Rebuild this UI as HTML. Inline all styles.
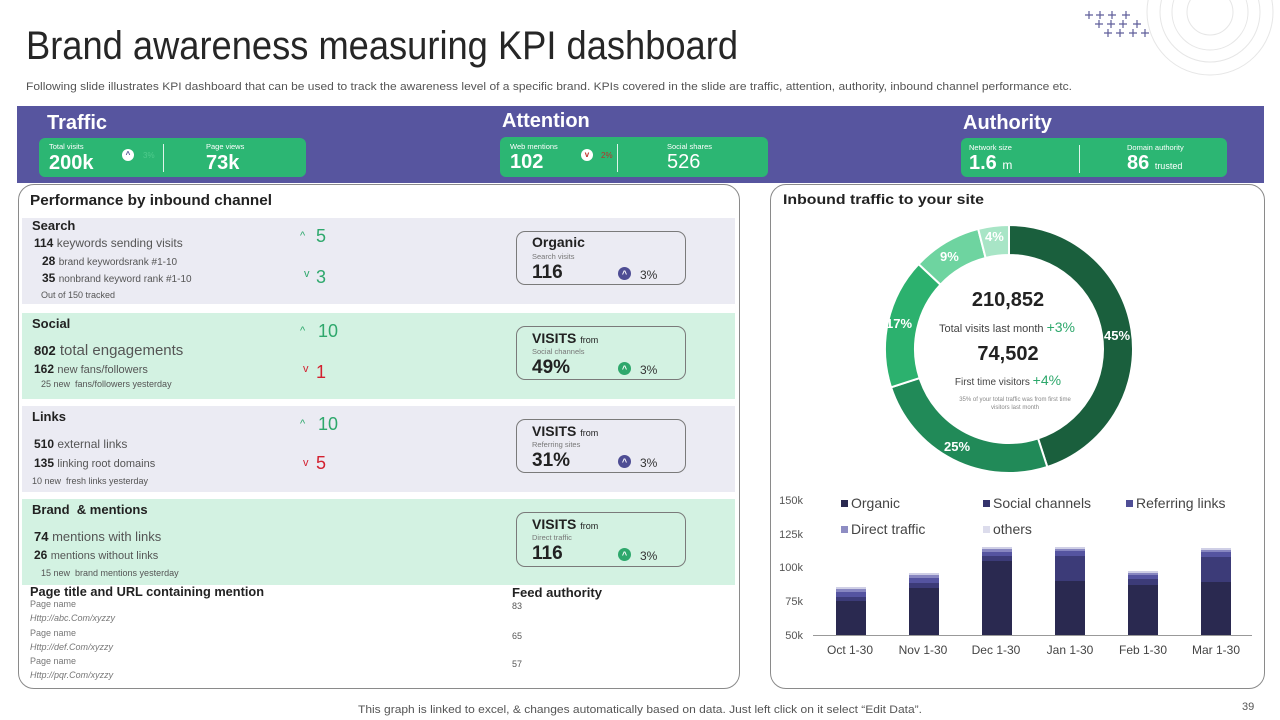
<!DOCTYPE html>
<html><head><meta charset="utf-8">
<style>
*{margin:0;padding:0;box-sizing:border-box}
body{width:1280px;height:720px;background:#fff;position:relative;overflow:hidden;font-family:"Liberation Sans",Arial,sans-serif;color:#222}
.t{position:absolute;white-space:nowrap;line-height:1}
.fit span.s{display:inline-block;transform-origin:0 0;white-space:nowrap}
.w{color:#fff}
.g{color:#555}
.gb{position:absolute;background:#2cb673;border-radius:6px}
.sep{position:absolute;width:1px;background:rgba(255,255,255,0.85)}
.sec{position:absolute;left:22px;width:713px;height:86px}
.lav{background:#ebebf3}
.mint{background:#d3f2e2}
.gr{color:#2ea86c}
.rd{color:#d3202f}
.vb{position:absolute;left:516px;width:170px;height:54px;border:1px solid #7a7a7a;border-radius:9px}
.ic{position:absolute;width:13px;height:13px;border-radius:50%;color:#fff;font-size:9px;font-weight:bold;text-align:center;line-height:14px}
.kic{position:absolute;width:12px;height:12px;border-radius:50%;background:#fff;font-size:8px;font-weight:bold;text-align:center;line-height:12px}
.panel{position:absolute;border:1px solid #8a8a8a;border-radius:16px;background:#fff}
</style></head>
<body>

<!-- decorations -->
<svg style="position:absolute;left:0;top:0" width="1280" height="720">
<g fill="none" stroke="#e6e6e6" stroke-width="1">
<circle cx="1210" cy="12" r="23"/>
<circle cx="1210" cy="12" r="38"/>
<circle cx="1210" cy="12" r="50"/>
<circle cx="1210" cy="12" r="63"/>
</g>
<g stroke="#5f5e9a" stroke-width="1.2">
<path d="M1085,15h8M1089,11v8 M1096,15h8M1100,11v8 M1108,15h8M1112,11v8 M1122,15h8M1126,11v8"/>
<path d="M1095,24h8M1099,20v8 M1107,24h8M1111,20v8 M1119,24h8M1123,20v8 M1133,24h8M1137,20v8"/>
<path d="M1104,33h8M1108,29v8 M1116,33h8M1120,29v8 M1129,33h8M1133,29v8 M1141,33h8M1145,29v8"/>
</g>
</svg>

<div class="t fit" style="left:26px;top:26px;width:712px;font-size:40px;color:#262626"><span class="s">Brand awareness measuring KPI dashboard</span></div>
<div class="t fit" style="left:26px;top:82px;width:1046px;font-size:11px;color:#555"><span class="s">Following slide illustrates KPI dashboard that can be used to track the awareness level of a specific brand. KPIs covered in the slide are traffic, attention, authority, inbound channel performance etc.</span></div>

<!-- KPI band -->
<div style="position:absolute;left:17px;top:106px;width:1247px;height:77px;background:#57559f"></div>
<div class="t w" style="left:47px;top:113px;font-size:20px;font-weight:bold">Traffic</div>
<div class="t w" style="left:502px;top:111px;font-size:20px;font-weight:bold">Attention</div>
<div class="t w" style="left:963px;top:113px;font-size:20px;font-weight:bold">Authority</div>

<div class="gb" style="left:39px;top:138px;width:267px;height:39px"></div>
<div class="gb" style="left:500px;top:137px;width:268px;height:40px"></div>
<div class="gb" style="left:961px;top:138px;width:266px;height:39px"></div>

<div class="t w" style="left:49px;top:143px;font-size:7.5px">Total visits</div>
<div class="t w" style="left:49px;top:153px;font-size:20px;font-weight:bold">200k</div>
<div class="kic" style="left:122px;top:149px;color:#4e4d94">^</div>
<div class="t" style="left:143px;top:152px;font-size:8px;color:#4fca8c">3%</div>
<div class="sep" style="left:163px;top:144px;height:28px"></div>
<div class="t w" style="left:206px;top:143px;font-size:7.5px">Page views</div>
<div class="t w" style="left:206px;top:153px;font-size:20px;font-weight:bold">73k</div>

<div class="t w" style="left:510px;top:143px;font-size:7.5px">Web mentions</div>
<div class="t w" style="left:510px;top:152px;font-size:20px;font-weight:bold">102</div>
<div class="kic" style="left:581px;top:149px;color:#c0302a">v</div>
<div class="t" style="left:601px;top:152px;font-size:8px;color:#b8322a">2%</div>
<div class="sep" style="left:617px;top:144px;height:28px"></div>
<div class="t w" style="left:667px;top:143px;font-size:7.5px">Social shares</div>
<div class="t w" style="left:667px;top:152px;font-size:20px">526</div>

<div class="t w" style="left:969px;top:144px;font-size:7.5px">Network size</div>
<div class="t w" style="left:969px;top:153px;font-size:20px;font-weight:bold">1.6 <span style="font-size:12px;font-weight:normal">m</span></div>
<div class="sep" style="left:1079px;top:145px;height:28px"></div>
<div class="t w" style="left:1127px;top:144px;font-size:7.5px">Domain authority</div>
<div class="t w" style="left:1127px;top:153px;font-size:20px;font-weight:bold">86 <span style="font-size:9px;font-weight:normal">trusted</span></div>

<!-- Left panel -->
<div class="panel" style="left:18px;top:184px;width:722px;height:505px"></div>
<div class="t fit" style="left:30px;top:193px;width:242px;font-size:15px;font-weight:bold"><span class="s">Performance by inbound channel</span></div>

<div class="sec lav" style="top:218px"></div>
<div class="sec mint" style="top:313px"></div>
<div class="sec lav" style="top:406px"></div>
<div class="sec mint" style="top:499px"></div>

<!-- Search -->
<div class="t" style="left:32px;top:219px;font-size:13px;font-weight:bold">Search</div>
<div class="t" style="left:34px;top:237px;font-size:12px"><b>114</b> <span class="g">keywords sending visits</span></div>
<div class="t" style="left:42px;top:255px;font-size:12px"><b>28</b> <span class="g" style="font-size:10px">brand keywordsrank #1-10</span></div>
<div class="t" style="left:42px;top:272px;font-size:12px"><b>35</b> <span class="g" style="font-size:10px">nonbrand keyword rank #1-10</span></div>
<div class="t g" style="left:41px;top:291px;font-size:9px">Out of 150 tracked</div>
<div class="t gr" style="left:300px;top:231px;font-size:11px">^</div>
<div class="t gr" style="left:316px;top:227px;font-size:18px">5</div>
<div class="t gr" style="left:304px;top:269px;font-size:11px">v</div>
<div class="t gr" style="left:316px;top:268px;font-size:18px">3</div>

<!-- Social -->
<div class="t" style="left:32px;top:317px;font-size:13px;font-weight:bold">Social</div>
<div class="t" style="left:34px;top:343px;font-size:15px"><b style="font-size:13px">802</b> <span class="g">total engagements</span></div>
<div class="t" style="left:34px;top:363px;font-size:12px"><b>162</b> <span class="g" style="font-size:11px">new fans/followers</span></div>
<div class="t g" style="left:41px;top:380px;font-size:9px">25 new&nbsp; fans/followers yesterday</div>
<div class="t gr" style="left:300px;top:326px;font-size:11px">^</div>
<div class="t gr" style="left:318px;top:322px;font-size:18px">10</div>
<div class="t rd" style="left:303px;top:364px;font-size:11px">v</div>
<div class="t rd" style="left:316px;top:363px;font-size:18px">1</div>

<!-- Links -->
<div class="t" style="left:32px;top:410px;font-size:13px;font-weight:bold">Links</div>
<div class="t" style="left:34px;top:438px;font-size:12px"><b>510</b> <span class="g">external links</span></div>
<div class="t" style="left:34px;top:457px;font-size:12px"><b>135</b> <span class="g" style="font-size:11px">linking root domains</span></div>
<div class="t g" style="left:32px;top:477px;font-size:9px">10 new&nbsp; fresh links yesterday</div>
<div class="t gr" style="left:300px;top:419px;font-size:11px">^</div>
<div class="t gr" style="left:318px;top:415px;font-size:18px">10</div>
<div class="t rd" style="left:303px;top:458px;font-size:11px">v</div>
<div class="t rd" style="left:316px;top:454px;font-size:18px">5</div>

<!-- Brand -->
<div class="t" style="left:32px;top:503px;font-size:13px;font-weight:bold">Brand&nbsp; &amp; mentions</div>
<div class="t" style="left:34px;top:530px;font-size:13px"><b>74</b> <span class="g">mentions with links</span></div>
<div class="t" style="left:34px;top:549px;font-size:12px"><b>26</b> <span class="g" style="font-size:11px">mentions without links</span></div>
<div class="t g" style="left:41px;top:569px;font-size:9px">15 new&nbsp; brand mentions yesterday</div>

<!-- Page title list -->
<div class="t fit" style="left:30px;top:585px;width:234px;font-size:13px;font-weight:bold"><span class="s">Page title and URL containing mention</span></div>
<div class="t" style="left:30px;top:600px;font-size:9px;color:#777">Page name</div>
<div class="t" style="left:30px;top:614px;font-size:9px;color:#777;font-style:italic">Http://abc.Com/xyzzy</div>
<div class="t" style="left:30px;top:629px;font-size:9px;color:#777">Page name</div>
<div class="t" style="left:30px;top:643px;font-size:9px;color:#777;font-style:italic">Http://def.Com/xyzzy</div>
<div class="t" style="left:30px;top:657px;font-size:9px;color:#777">Page name</div>
<div class="t" style="left:30px;top:671px;font-size:9px;color:#777;font-style:italic">Http://pqr.Com/xyzzy</div>

<div class="t fit" style="left:512px;top:586px;width:90px;font-size:13px;font-weight:bold"><span class="s">Feed authority</span></div>
<div class="t g" style="left:512px;top:602px;font-size:9px">83</div>
<div class="t g" style="left:512px;top:632px;font-size:9px">65</div>
<div class="t g" style="left:512px;top:660px;font-size:9px">57</div>

<!-- VISITS boxes -->
<div class="vb" style="top:231px"></div>
<div class="t" style="left:532px;top:235px;font-size:14px;font-weight:bold">Organic</div>
<div class="t" style="left:532px;top:253px;font-size:7.5px;color:#777">Search visits</div>
<div class="t" style="left:532px;top:263px;font-size:19px;font-weight:bold">116</div>
<div class="ic" style="left:618px;top:267px;background:#4e4d94">^</div>
<div class="t" style="left:640px;top:269px;font-size:12px;color:#333">3%</div>

<div class="vb" style="top:326px"></div>
<div class="t" style="left:532px;top:331px;font-size:14px;font-weight:bold">VISITS <span style="font-size:9px;font-weight:normal">from</span></div>
<div class="t" style="left:532px;top:348px;font-size:7.5px;color:#777">Social channels</div>
<div class="t" style="left:532px;top:358px;font-size:19px;font-weight:bold">49%</div>
<div class="ic" style="left:618px;top:362px;background:#2ea86c">^</div>
<div class="t" style="left:640px;top:364px;font-size:12px;color:#333">3%</div>

<div class="vb" style="top:419px"></div>
<div class="t" style="left:532px;top:424px;font-size:14px;font-weight:bold">VISITS <span style="font-size:9px;font-weight:normal">from</span></div>
<div class="t" style="left:532px;top:441px;font-size:7.5px;color:#777">Referring sites</div>
<div class="t" style="left:532px;top:451px;font-size:19px;font-weight:bold">31%</div>
<div class="ic" style="left:618px;top:455px;background:#4e4d94">^</div>
<div class="t" style="left:640px;top:457px;font-size:12px;color:#333">3%</div>

<div class="vb" style="top:512px;height:55px"></div>
<div class="t" style="left:532px;top:517px;font-size:14px;font-weight:bold">VISITS <span style="font-size:9px;font-weight:normal">from</span></div>
<div class="t" style="left:532px;top:534px;font-size:7.5px;color:#777">Direct traffic</div>
<div class="t" style="left:532px;top:544px;font-size:19px;font-weight:bold">116</div>
<div class="ic" style="left:618px;top:548px;background:#2ea86c">^</div>
<div class="t" style="left:640px;top:550px;font-size:12px;color:#333">3%</div>

<!-- Right panel -->
<div class="panel" style="left:770px;top:184px;width:495px;height:505px"></div>
<div class="t fit" style="left:783px;top:192px;width:201px;font-size:14px;font-weight:bold"><span class="s">Inbound traffic to your site</span></div>

<svg style="position:absolute;left:0;top:0" width="1280" height="720" font-family="Liberation Sans, Arial, sans-serif">
<g stroke="#fff" stroke-width="2">
<path fill="#1a5f3d" d="M1009,225 A124,124 0 0 1 1047.32,466.93 L1038.05,438.40 A94,94 0 0 0 1009,255 Z"/>
<path fill="#218a58" d="M1047.32,466.93 A124,124 0 0 1 891.07,387.32 L919.60,378.05 A94,94 0 0 0 1038.05,438.40 Z"/>
<path fill="#2cb16e" d="M891.07,387.32 A124,124 0 0 1 918.61,264.12 L940.48,284.65 A94,94 0 0 0 919.60,378.05 Z"/>
<path fill="#6ed4a0" d="M918.61,264.12 A124,124 0 0 1 978.16,228.90 L985.62,257.95 A94,94 0 0 0 940.48,284.65 Z"/>
<path fill="#a8e5c6" d="M978.16,228.90 A124,124 0 0 1 1009,225 L1009,255 A94,94 0 0 0 985.62,257.95 Z"/>
</g>
<g fill="#fff" font-size="13" font-weight="bold">
<text x="1104" y="340">45%</text>
<text x="944" y="451">25%</text>
<text x="886" y="328">17%</text>
<text x="940" y="261">9%</text>
<text x="985" y="241">4%</text>
</g>
<text x="1008" y="306" text-anchor="middle" font-size="20" font-weight="bold" fill="#222">210,852</text>
<text x="1007" y="332" text-anchor="middle" font-size="11" fill="#444">Total visits last month <tspan font-size="14" fill="#2ea86c">+3%</tspan></text>
<text x="1008" y="360" text-anchor="middle" font-size="20" font-weight="bold" fill="#222">74,502</text>
<text x="1008" y="385" text-anchor="middle" font-size="10" fill="#444">First time visitors <tspan font-size="14" fill="#2ea86c">+4%</tspan></text>
<text x="1015" y="401" text-anchor="middle" font-size="6" fill="#888">35% of your total traffic was from first time</text>
<text x="1015" y="409" text-anchor="middle" font-size="6" fill="#888">visitors last month</text>

<!-- bar chart -->
<g font-size="11" fill="#555" text-anchor="end">
<text x="803" y="504">150k</text>
<text x="803" y="538">125k</text>
<text x="803" y="571">100k</text>
<text x="803" y="605">75k</text>
<text x="803" y="639">50k</text>
</g>
<g>
<rect x="836" y="587" width="30" height="2" fill="#cfcfe6"/>
<rect x="836" y="589" width="30" height="3" fill="#8786c0"/>
<rect x="836" y="592" width="30" height="5" fill="#5554a0"/>
<rect x="836" y="597" width="30" height="4" fill="#3c3b78"/>
<rect x="836" y="601" width="30" height="34" fill="#2a2950"/>

<rect x="909" y="573" width="30" height="2" fill="#cfcfe6"/>
<rect x="909" y="575" width="30" height="3" fill="#8786c0"/>
<rect x="909" y="578" width="30" height="5" fill="#5554a0"/>
<rect x="909" y="583" width="30" height="5" fill="#3c3b78"/>
<rect x="909" y="588" width="30" height="47" fill="#2a2950"/>

<rect x="982" y="547" width="30" height="2" fill="#cfcfe6"/>
<rect x="982" y="549" width="30" height="3" fill="#8786c0"/>
<rect x="982" y="552" width="30" height="4" fill="#5554a0"/>
<rect x="982" y="556" width="30" height="5" fill="#3c3b78"/>
<rect x="982" y="561" width="30" height="74" fill="#2a2950"/>

<rect x="1055" y="547" width="30" height="2" fill="#cfcfe6"/>
<rect x="1055" y="549" width="30" height="2" fill="#8786c0"/>
<rect x="1055" y="551" width="30" height="5" fill="#5554a0"/>
<rect x="1055" y="556" width="30" height="25" fill="#3c3b78"/>
<rect x="1055" y="581" width="30" height="54" fill="#2a2950"/>

<rect x="1128" y="571" width="30" height="2" fill="#cfcfe6"/>
<rect x="1128" y="573" width="30" height="2" fill="#8786c0"/>
<rect x="1128" y="575" width="30" height="4" fill="#5554a0"/>
<rect x="1128" y="579" width="30" height="6" fill="#3c3b78"/>
<rect x="1128" y="585" width="30" height="50" fill="#2a2950"/>

<rect x="1201" y="548" width="30" height="2" fill="#cfcfe6"/>
<rect x="1201" y="550" width="30" height="2" fill="#8786c0"/>
<rect x="1201" y="552" width="30" height="5" fill="#5554a0"/>
<rect x="1201" y="557" width="30" height="25" fill="#3c3b78"/>
<rect x="1201" y="582" width="30" height="53" fill="#2a2950"/>
</g>
<line x1="813" y1="635.5" x2="1252" y2="635.5" stroke="#999" stroke-width="1"/>
<g font-size="12" fill="#444" text-anchor="middle">
<text x="850" y="654">Oct 1-30</text>
<text x="923" y="654">Nov 1-30</text>
<text x="996" y="654">Dec 1-30</text>
<text x="1070" y="654">Jan 1-30</text>
<text x="1143" y="654">Feb 1-30</text>
<text x="1216" y="654">Mar 1-30</text>
</g>
<g font-size="14" fill="#444">
<rect x="841" y="500" width="7" height="7" fill="#2a2950"/><text x="851" y="508">Organic</text>
<rect x="983" y="500" width="7" height="7" fill="#34336c"/><text x="993" y="508">Social channels</text>
<rect x="1126" y="500" width="7" height="7" fill="#4f4e96"/><text x="1136" y="508">Referring links</text>
<rect x="841" y="526" width="7" height="7" fill="#8e8dc3"/><text x="851" y="534">Direct traffic</text>
<rect x="983" y="526" width="7" height="7" fill="#dcdcec"/><text x="993" y="534">others</text>
</g>
</svg>

<div class="t fit" style="left:358px;top:705px;width:564px;font-size:11px;color:#555"><span class="s">This graph is linked to excel, &amp; changes automatically based on data. Just left click on it select “Edit Data”.</span></div>
<div class="t" style="left:1242px;top:702px;font-size:11px;color:#555">39</div>

<script>
document.querySelectorAll('.fit').forEach(function(d){
  var s=d.querySelector('span.s');
  var w=s.getBoundingClientRect().width;
  var tw=parseFloat(d.style.width);
  if(w>0&&tw>0){s.style.transform='scaleX('+(tw/w)+')';}
});
</script>
</body></html>
